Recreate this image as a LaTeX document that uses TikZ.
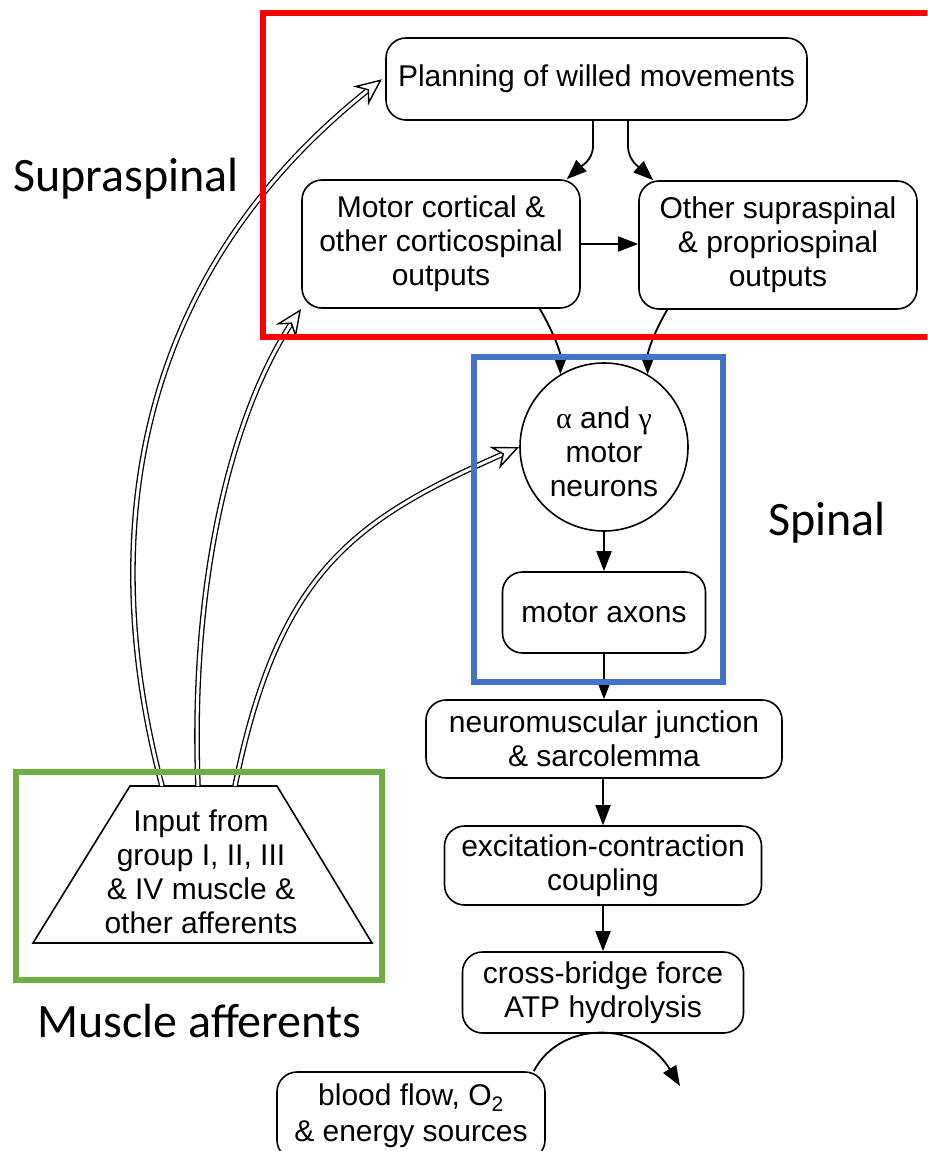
\documentclass[tikz,border=0pt]{standalone}
\usepackage{fontspec}
\setmainfont{Liberation Sans}
\newfontfamily\calibri{Carlito}
\newfontfamily\greekserif{Liberation Serif}
\usetikzlibrary{arrows.meta,shapes.geometric,decorations.markings}
\definecolor{frameblue}{HTML}{4472C4}
\definecolor{framegreen}{HTML}{70AD47}
\definecolor{framered}{HTML}{FF0000}
\begin{document}
\begin{tikzpicture}[x=1pt,y=-1pt,
  txt/.style={font=\fontsize{30}{34}\selectfont},
  box/.style={draw, line width=1.6pt, rounded corners=20pt, align=center, inner sep=0pt, txt},
  conn/.style={line width=1.8pt, -{Triangle[length=20pt,width=15pt]}},
  dbl/.style={double, line width=1.3pt, double distance=3pt, shorten >=11pt,
    postaction={decorate},
    decoration={markings, mark=at position 0.9995 with {\arrow[line width=1.4pt]{Stealth[fill=white, length=27pt, width=24pt, inset=9pt]}}}},
  lab/.style={font=\calibri\fontsize{48}{56}\selectfont, inner sep=0pt, anchor=base west},
  frame/.style={line width=5.5pt}
]
\useasboundingbox (0,0) rectangle (927,1151);
\clip (0,0) rectangle (927,1151);
\fill[white] (0,0) rectangle (927,1151);

% nodes
\node[box, minimum width=421pt, minimum height=82pt] (plan) at (596.5,79) {Planning of willed movements};
\node[box, minimum width=278pt, minimum height=128pt] (mc) at (441,244) {Motor cortical \&\\other corticospinal\\outputs};
\node[box, minimum width=278pt, minimum height=128pt] (os) at (778,245) {Other supraspinal\\\& propriospinal\\outputs};
\node[circle, draw, line width=1.6pt, minimum size=168pt, inner sep=0pt] (mn) at (604,447) {};
\node[align=center, inner sep=0pt, txt] (mntext) at (604,452) {{\greekserif α} and {\greekserif γ}\\motor\\neurons};
\node[box, minimum width=203pt, minimum height=81pt] (ax) at (604,612.5) {motor axons};
\node[box, minimum width=356pt, minimum height=78pt] (nmj) at (604,739) {neuromuscular junction\\\& sarcolemma};
\node[box, minimum width=317pt, minimum height=79pt] (ecc) at (603,865.5) {excitation-contraction\\coupling};
\node[box, minimum width=281pt, minimum height=81pt] (xb) at (603,992.5) {cross-bridge force\\ATP hydrolysis};
\node[box, minimum width=268pt, minimum height=88pt] (bf) at (411,1116) {blood flow, O\textsubscript{2}\\[2pt]\& energy sources};

% trapezoid input
\draw[line width=1.6pt] (130,786) -- (277,786) -- (372,943) -- (33,943) -- cycle;
\node[align=center, inner sep=0pt, txt] (inp) at (201,871.5) {Input from\\group I, II, III\\\& IV muscle \&\\other afferents};
\coordinate (s1) at (162,786);
\coordinate (s2) at (198,786);
\coordinate (s3) at (235,786);
\coordinate (endc) at (680,1086);

% connectors
\draw[conn] ([xshift=-3.5pt]plan.south) -- ++(0,25) .. controls +(0,15) and +(13,-12) .. ([xshift=-14pt]mc.north east);
\draw[conn] ([xshift=31.5pt]plan.south) -- ++(0,25) .. controls +(0,15) and +(-13,-12) .. ([xshift=15pt]os.north west);
\draw[conn] (mc.east) -- (mc.east -| os.west);
\draw[conn] ([xshift=-41pt]mc.south east) .. controls +(14,24) and +(0,-22) .. (mn.121);
\draw[conn] ([xshift=29pt]os.south west) .. controls +(-14,24) and +(0,-22) .. (mn.59);
\draw[conn] (mn.south) -- (mn.south |- ax.north);
\draw[conn] (ax.south) -- (ax.south |- nmj.north);
\draw[conn] (ecc.north |- nmj.south) -- (ecc.north);
\draw[conn] (ecc.south) -- (ecc.south |- xb.north);
\draw[conn] ([xshift=-12pt]bf.north east) .. controls (560,1020) and (640,1020) .. (endc);

% afferent double arrows
\draw[dbl] (s1) .. controls (110,590) and (100,300) .. ([xshift=-3pt]plan.west);
\draw[dbl] (s2) .. controls (190,580) and (232,410) .. (mc.south west);
\draw[dbl] (s3) .. controls (279,570) and (354,519) .. (mn.west);

% coloured frames
\draw[frame, framered] (263,13) rectangle (950,337);
\draw[frame, frameblue] (474,357) rectangle (723,682);
\draw[frame, framegreen] (16,772) rectangle (382,980);

% labels
\node[lab] (lsup) at (13,191) {Supraspinal};
\node[lab] (lspi) at (768,535) {Spinal};
\node[lab] (lmus) at (37,1037) {Muscle afferents};
\end{tikzpicture}
\end{document}
